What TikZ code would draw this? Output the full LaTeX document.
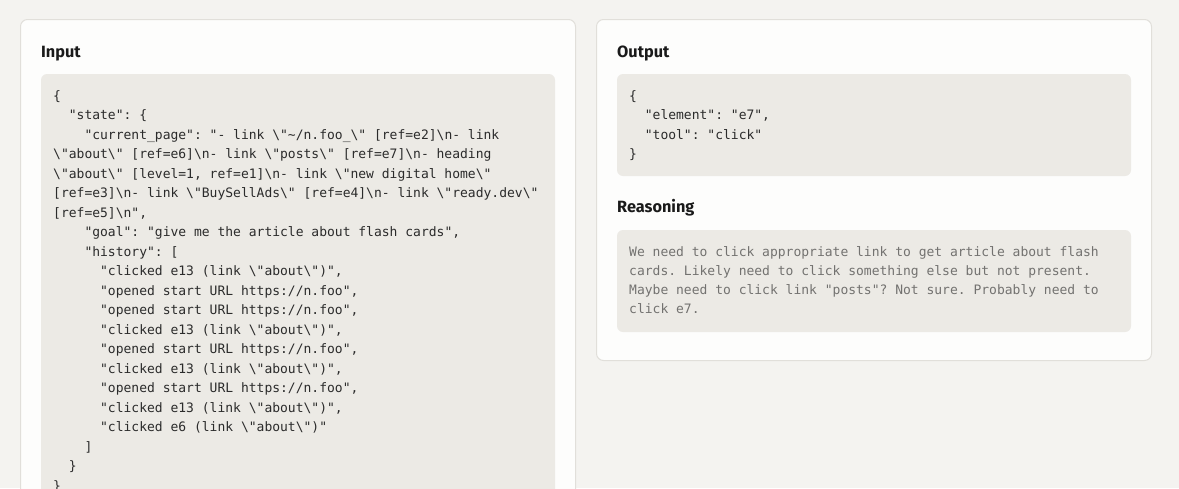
\documentclass[tikz,border=0pt]{standalone}
\usepackage{fontspec}
\setmonofont{DejaVu Sans Mono}
\newfontfamily\headfont{Fira Sans}
\definecolor{pagebg}{HTML}{F4F3F0}
\definecolor{cardfill}{HTML}{FDFDFC}
\definecolor{cardborder}{HTML}{E1DFDA}
\definecolor{codebg}{HTML}{ECEAE5}
\definecolor{codetext}{HTML}{2B2B2B}
\definecolor{reasontext}{HTML}{737270}
\definecolor{headtext}{HTML}{1A1A1A}
\newcommand\BS{\textbackslash}
\tikzset{
  card/.style={draw=cardborder, line width=1pt, fill=cardfill, rounded corners=7pt},
  codebox/.style={fill=codebg, rounded corners=6pt},
  codetxt/.style={inner sep=0pt, anchor=base west, text=codetext, font=\ttfamily\fontsize{13}{19.5}\selectfont},
  reasontxt/.style={codetxt, text=reasontext},
  headtxt/.style={inner sep=0pt, anchor=base west, text=headtext, font=\headfont\bfseries\fontsize{16.3}{20}\selectfont},
}
% #1 name, #2 indent chars, #3 line index, #4 text
\newcommand\inl[4]{\node[codetxt] (#1) at ({53+#2*7.8267},{100+#3*19.5}) {#4};}
\begin{document}
\begin{tikzpicture}[x=1pt,y=-1pt]
\useasboundingbox (0,0) rectangle (1179,488);
\fill[pagebg] (0,0) rectangle (1179,488);
\clip (0,0) rectangle (1179,488);
% cards
\path[card] (20.5,19.5) rectangle (575.5,530);
\path[card] (596.5,19.5) rectangle (1151.5,360.5);
% code boxes
\path[codebox] (41,74) rectangle (555,560);
\path[codebox] (617,74) rectangle (1131,176);
\path[codebox] (617,230) rectangle (1131,332);
% headings
\node[headtxt] (hin) at (41,57) {Input};
\node[headtxt] (hout) at (617,57) {Output};
\node[headtxt] (hreas) at (617,212.5) {Reasoning};
% input code
\inl{i0}{0}{0}{\{}
\inl{i1}{2}{1}{"state": \{}
\inl{i2}{4}{2}{"current\_page": "- link \BS"\textasciitilde/n.foo\_\BS" [ref=e2]\BS n- link}
\inl{i3}{0}{3}{\BS"about\BS" [ref=e6]\BS n- link \BS"posts\BS" [ref=e7]\BS n- heading}
\inl{i4}{0}{4}{\BS"about\BS" [level=1, ref=e1]\BS n- link \BS"new digital home\BS"}
\inl{i5}{0}{5}{[ref=e3]\BS n- link \BS"BuySellAds\BS" [ref=e4]\BS n- link \BS"ready.dev\BS"}
\inl{i6}{0}{6}{[ref=e5]\BS n",}
\inl{i7}{4}{7}{"goal": "give me the article about flash cards",}
\inl{i8}{4}{8}{"history": [}
\inl{i9}{6}{9}{"clicked e13 (link \BS"about\BS")",}
\inl{i10}{6}{10}{"opened start URL https://n.foo",}
\inl{i11}{6}{11}{"opened start URL https://n.foo",}
\inl{i12}{6}{12}{"clicked e13 (link \BS"about\BS")",}
\inl{i13}{6}{13}{"opened start URL https://n.foo",}
\inl{i14}{6}{14}{"clicked e13 (link \BS"about\BS")",}
\inl{i15}{6}{15}{"opened start URL https://n.foo",}
\inl{i16}{6}{16}{"clicked e13 (link \BS"about\BS")",}
\inl{i17}{6}{17}{"clicked e6 (link \BS"about\BS")"}
\inl{i18}{4}{18}{]}
\inl{i19}{2}{19}{\}}
\inl{i20}{0}{20}{\}}
% output code
\node[codetxt] (o0) at (629,100) {\{};
\node[codetxt] (o1) at ({629+2*7.8267},119.5) {"element": "e7",};
\node[codetxt] (o2) at ({629+2*7.8267},139) {"tool": "click"};
\node[codetxt] (o3) at (629,158.5) {\}};
% reasoning
\node[reasontxt] (r0) at (629,256) {We need to click appropriate link to get article about flash};
\node[reasontxt] (r1) at (629,275.3) {cards. Likely need to click something else but not present.};
\node[reasontxt] (r2) at (629,294.6) {Maybe need to click link "posts"? Not sure. Probably need to};
\node[reasontxt] (r3) at (629,313.9) {click e7.};
\end{tikzpicture}
\end{document}
